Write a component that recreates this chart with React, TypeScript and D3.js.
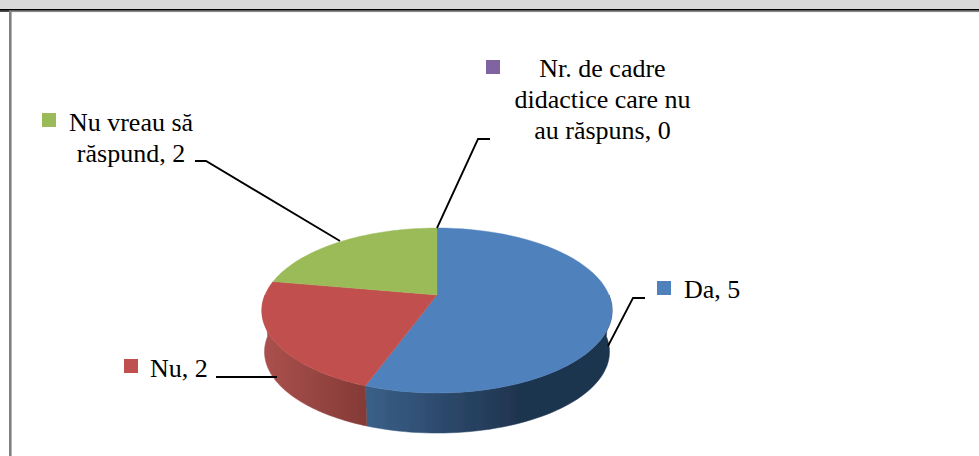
import React from "react";
import * as d3 from "d3";

const categories = ["Da", "Nu", "Nu vreau să răspund", "Nr. de cadre didactice care nu au răspuns"];
const values = [5, 2, 2, 0];
const colors = ["#4f81bd", "#c0504d", "#9bbb59", "#8064a2"];
const sideStops = [
  [["#3a6089", 0], ["#1f344f", 0.62], ["#1f344f", 1]],
  [["#ab514e", 0], ["#843a36", 1]],
  [["#7d9545", 0], ["#7d9545", 1]],
  [["#5f4a7a", 0], ["#5f4a7a", 1]],
] as [string, number][][];
const labelLines = [["Da, 5"], ["Nu, 2"], ["Nu vreau să", "răspund, 2"], ["Nr. de cadre", "didactice care nu", "au răspuns, 0"]];

const W = 979, H = 456;
const cx = 437, cy = 295, R = 172, k = 0.188, b = 79.6, depth = 41.5, shrink = 0.985;

const project = (a: number, r = 1) => {
  const u = Math.sin(a) * r, v = -Math.cos(a) * r;
  const d = 1 - k * v;
  return [(R * u) / d, (b * v) / d] as [number, number];
};
const top = (a: number): [number, number] => { const p = project(a); return [cx + p[0], cy + p[1]]; };
const bottom = (a: number): [number, number] => { const p = project(a); return [cx + p[0] * shrink, cy + p[1] * shrink + depth]; };
const line = d3.line<[number, number]>();

const arcs = d3.pie<number>().sort(null)(values);
const samples = (a0: number, a1: number) => d3.range(0, 61).map((i) => a0 + ((a1 - a0) * i) / 60);

const leaders: [number, number][][] = [
  [[608, 346], [633, 298], [645, 298]],
  [[216, 377], [277, 377]],
  [[195, 161], [206, 161], [340, 241]],
  [[437, 228], [478, 139], [490, 139]],
];
const swatches: [number, number][] = [[657, 281], [124, 359], [42, 113], [486, 60]];
const labelPos: { x: number; y: number; anchor: string }[] = [
  { x: 684, y: 298, anchor: "start" },
  { x: 150, y: 377, anchor: "start" },
  { x: 131, y: 131, anchor: "middle" },
  { x: 602.5, y: 77, anchor: "middle" },
];

export default function App() {
  return (
    <svg width={W} height={H} viewBox={`0 0 ${W} ${H}`} style={{ position: "fixed", left: 0, top: 0, background: "#fff" }}>
      <defs>
        <filter id="soft" x="-5%" y="-5%" width="110%" height="110%">
          <feGaussianBlur stdDeviation={0.45} />
        </filter>
        {arcs.map((s, i) => {
          const xs = samples(s.startAngle, s.endAngle).map((a) => top(a)[0]);
          return (
            <linearGradient key={i} id={`side${i}`} gradientUnits="userSpaceOnUse"
              x1={d3.min(xs) ?? 0} x2={d3.max(xs) ?? 0} y1={0} y2={0}>
              {sideStops[i].map(([c, o], j) => <stop key={j} offset={o} stopColor={c} />)}
            </linearGradient>
          );
        })}
      </defs>
      <rect x={0} y={0} width={W} height={9} fill="#d9d9d9" />
      <rect x={0} y={9} width={W} height={1.7} fill="#000" />
      <rect x={0} y={10.7} width={9} height={1} fill="#000" />
      <rect x={9} y={10.7} width={W - 9} height={1.4} fill="#888" />
      <rect x={9} y={10.7} width={2.6} height={H - 10.7} fill="#808080" />

      <g filter="url(#soft)">
        {arcs.map((s, i) => {
          // only the part of the rim facing the viewer has a visible side wall
          const a0 = Math.max(s.startAngle, Math.PI / 2);
          const a1 = Math.min(s.endAngle, (3 * Math.PI) / 2);
          if (a1 <= a0) return null;
          const pts = samples(a0, a1);
          const d = line([...pts.map(top), ...pts.slice().reverse().map(bottom)]) + "Z";
          return <path key={i} d={d} fill={`url(#side${i})`} stroke={`url(#side${i})`} strokeWidth={0.5} />;
        })}
        {arcs.map((s, i) => {
          if (s.endAngle - s.startAngle === 0) return null;
          const pts = samples(s.startAngle, s.endAngle).map(top);
          return <path key={i} d={line([[cx, cy], ...pts]) + "Z"} fill={colors[i]} stroke={colors[i]} strokeWidth={0.4} />;
        })}
      </g>

      {leaders.map((l, i) => <path key={i} d={line(l) ?? ""} fill="none" stroke="#000" strokeWidth={1.8} />)}
      {categories.map((c, i) => (
        <g key={c}>
          <rect x={swatches[i][0]} y={swatches[i][1]} width={14} height={14} fill={colors[i]} />
          <text x={labelPos[i].x} y={labelPos[i].y} textAnchor={labelPos[i].anchor as any}
            fontFamily="'Liberation Serif', serif" fontSize={26} fill="#000">
            {labelLines[i].map((t, j) => <tspan key={j} x={labelPos[i].x} dy={j === 0 ? 0 : 31}>{t}</tspan>)}
          </text>
        </g>
      ))}
    </svg>
  );
}
